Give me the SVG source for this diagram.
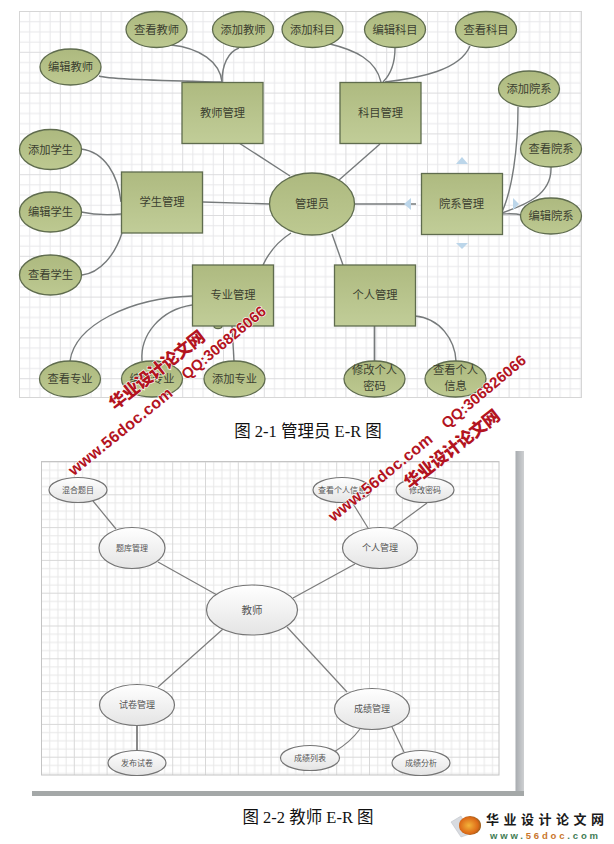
<svg xmlns="http://www.w3.org/2000/svg" width="614" height="844" viewBox="0 0 614 844">
<style>
text{font-family:"Noto Sans CJK SC","Liberation Serif",serif;text-anchor:middle}
.n1 rect,.n1 ellipse{stroke:#5f6c4e;stroke-width:1.3}
.n1 rect{fill:url(#gR)}
.n1 ellipse{fill:url(#gE)}
.n1 text{font-size:11.3px;fill:#3c3f30}
.n2 ellipse{fill:url(#gW);stroke:#747474;stroke-width:1.2}
.n2 text{font-size:8px;fill:#555}
.n2 text.m{font-size:9px}
.n2 text.b{font-size:10.5px}
.c1 path{fill:none;stroke:#767a7b;stroke-width:1.4}
.c2 path{fill:none;stroke:#7c7c7c;stroke-width:1.2}
.cap{font-size:16.500px;fill:#111;font-family:"Liberation Serif","Noto Sans CJK SC",serif}
.wm text{font-family:"Liberation Sans","Noto Sans CJK SC",sans-serif;font-weight:700;fill:#b3141f;stroke:#fff;stroke-width:1.2px;paint-order:stroke}
.wm text.h{font-family:"Noto Sans CJK SC",sans-serif;font-weight:900;font-size:17px}
.tri{fill:#bcd6ea}
</style>
<defs>
<linearGradient id="gR" x1="0" y1="0" x2="0" y2="1"><stop offset="0" stop-color="#aeba80"/><stop offset="1" stop-color="#c1cd98"/></linearGradient>
<linearGradient id="gE" x1="0" y1="0" x2="0" y2="1"><stop offset="0" stop-color="#adb97f"/><stop offset="1" stop-color="#bdc991"/></linearGradient>
<linearGradient id="gW" x1="0" y1="0" x2="0" y2="1"><stop offset="0" stop-color="#ffffff"/><stop offset="1" stop-color="#e4e4e4"/></linearGradient>
<linearGradient id="gS" x1="0" y1="0" x2="1" y2="0"><stop offset="0" stop-color="#a8acb0"/><stop offset="1" stop-color="#ced0d2"/></linearGradient>
<radialGradient id="gB" cx=".45" cy=".5" r=".6"><stop offset="0" stop-color="#f3b43a"/><stop offset=".7" stop-color="#dd6a18"/><stop offset="1" stop-color="#7d5a1e"/></radialGradient>
<pattern id="g1" x="19" y="11" width="40.8" height="40.8" patternUnits="userSpaceOnUse">
<path d="M10.7 0V40.8M20.9 0V40.8M31.1 0V40.8M0 10.7H40.8M0 20.9H40.8M0 31.1H40.8" stroke="#e8e8ea" stroke-width="1" fill="none"/>
<path d="M.5 0V40.8M0 .5H40.8" stroke="#dcdcde" stroke-width="1" fill="none"/>
</pattern>
<pattern id="g2" x="41" y="461.5" width="32.8" height="32.8" patternUnits="userSpaceOnUse">
<path d="M8.7 0V32.8M16.9 0V32.8M25.1 0V32.8M0 8.7H32.8M0 16.9H32.8M0 25.1H32.8" stroke="#e8e8e8" stroke-width="1" fill="none"/>
<path d="M.5 0V32.8M0 .5H32.8" stroke="#d8d8d8" stroke-width="1" fill="none"/>
</pattern>
</defs>
<rect width="614" height="844" fill="#fff"/>

<g id="grid1"><rect x="19.500" y="11.500" width="562" height="386" fill="url(#g1)" stroke="#d6d6d6"/></g>
<g id="page2">
<rect x="515.500" y="451" width="8.500" height="345" fill="url(#gS)"/>
<rect x="32" y="791" width="492" height="5" fill="#a4a8a8"/>
<rect x="41.500" y="461.500" width="457.500" height="313.500" fill="url(#g2)" stroke="#c4c4c4"/>
</g>

<g id="connectors-1" class="c1">
<path d="M171 45C200 48 220 62 222 82"/>
<path d="M239 48C228 52 222 65 222 82"/>
<path d="M99 76C110 80 180 81 222 82"/>
<path d="M239 143L290 176"/>
<path d="M380 144L339 180"/>
<path d="M203 202L270 204"/>
<path d="M355 204H416"/>
<path d="M332 234L343 265"/>
<path d="M291 233C280 240 270 250 263 265"/>
<path d="M330 44C355 50 376 60 381 82"/>
<path d="M395 48C395 65 390 75 383 82"/>
<path d="M470 46C460 70 420 78 385 82"/>
<path d="M81 149C105 152 118 175 121 202"/>
<path d="M81 212C95 215 110 215 121 214"/>
<path d="M82 275C100 273 115 255 122 233"/>
<path d="M70 361C75 325 130 298 192 296"/>
<path d="M142 361C140 335 160 310 192 305"/>
<path d="M234 361L232 326"/>
<path d="M374.500 326V361" style="stroke-width:1.700"/>
<path d="M415 316C440 318 455 340 456 361"/>
<path d="M518 107C518 150 512 190 502 212"/>
<path d="M551 167C552 195 525 205 502 213"/>
<path d="M521 215C515 213 510 214 497 214"/>
</g>
<g id="handles">
<path class="tri" d="M462 157L468 164H456Z"/>
<path class="tri" d="M462 249L468 243H456Z"/>
<path class="tri" d="M404 204L411 198V210Z"/>
<path class="tri" d="M519 204L513 198V210Z"/>
</g>

<g id="connectors-2" class="c2">
<path d="M93 501L116 529"/>
<path d="M158 562L217 595"/>
<path d="M352 502L368 528"/>
<path d="M427 503L393 528"/>
<path d="M355 564L293 598"/>
<path d="M223 629L158 687"/>
<path d="M287 627L347 692"/>
<path d="M137 726V750" style="stroke-width:1.800"/>
<path d="M360 729C352 740 344 746 334 752"/>
<path d="M392 727L404 752"/>
</g>

<g id="a-view-teacher" class="n1"><ellipse cx="156.500" cy="29.500" rx="30.500" ry="18"/><text x="156.500" y="33.500">查看教师</text></g>
<g id="a-add-teacher" class="n1"><ellipse cx="243" cy="29.500" rx="30.500" ry="18"/><text x="243" y="33.500">添加教师</text></g>
<g id="a-add-subject" class="n1"><ellipse cx="312.500" cy="29.500" rx="30.500" ry="18"/><text x="312.500" y="33.500">添加科目</text></g>
<g id="a-edit-subject" class="n1"><ellipse cx="395" cy="29.500" rx="30.500" ry="18"/><text x="395" y="33.500">编辑科目</text></g>
<g id="a-view-subject" class="n1"><ellipse cx="486" cy="29.500" rx="30.500" ry="18"/><text x="486" y="33.500">查看科目</text></g>
<g id="a-edit-teacher" class="n1"><ellipse cx="70.500" cy="67" rx="30.500" ry="18"/><text x="70.500" y="71">编辑教师</text></g>
<g id="a-add-student" class="n1"><ellipse cx="50.500" cy="149.500" rx="31" ry="20"/><text x="50.500" y="153.500">添加学生</text></g>
<g id="a-edit-student" class="n1"><ellipse cx="50.500" cy="212" rx="31" ry="20"/><text x="50.500" y="216">编辑学生</text></g>
<g id="a-view-student" class="n1"><ellipse cx="50.500" cy="275" rx="31" ry="20"/><text x="50.500" y="279">查看学生</text></g>
<g id="a-teacher-mgmt" class="n1"><rect x="182" y="82.500" width="81" height="61"/><text x="222.500" y="117">教师管理</text></g>
<g id="a-subject-mgmt" class="n1"><rect x="340" y="82.500" width="81" height="61"/><text x="380.500" y="117">科目管理</text></g>
<g id="a-student-mgmt" class="n1"><rect x="121.500" y="172" width="81" height="61"/><text x="162" y="206">学生管理</text></g>
<g id="a-dept-mgmt" class="n1"><rect x="421.500" y="173.500" width="81" height="61"/><text x="461.500" y="208">院系管理</text></g>
<g id="a-admin" class="n1"><ellipse cx="312" cy="204" rx="42.500" ry="31"/><text x="312" y="208">管理员</text></g>
<g id="a-bump" class="n1"><ellipse cx="218" cy="326" rx="4" ry="2.500"/></g>
<g id="a-major-mgmt" class="n1"><rect x="192.500" y="265" width="81" height="61"/><text x="233" y="299">专业管理</text></g>
<g id="a-personal-mgmt" class="n1"><rect x="334.500" y="265" width="81" height="61"/><text x="375" y="299">个人管理</text></g>
<g id="a-view-major" class="n1"><ellipse cx="70" cy="379" rx="30.500" ry="18"/><text x="70" y="383">查看专业</text></g>
<g id="a-edit-major" class="n1"><ellipse cx="152" cy="379" rx="30.500" ry="18"/><text x="152" y="383">编辑专业</text></g>
<g id="a-add-major" class="n1"><ellipse cx="234.500" cy="379" rx="30.500" ry="18"/><text x="234.500" y="383">添加专业</text></g>
<g id="a-change-pwd" class="n1"><ellipse cx="374.500" cy="379" rx="30.500" ry="18"/><text x="374.500" y="374">修改个人</text><text x="374.500" y="390">密码</text></g>
<g id="a-view-info" class="n1"><ellipse cx="455.500" cy="379" rx="30.500" ry="18"/><text x="455.500" y="374">查看个人</text><text x="455.500" y="390">信息</text></g>
<g id="a-add-dept" class="n1"><ellipse cx="529" cy="89" rx="30.500" ry="18"/><text x="529" y="93">添加院系</text></g>
<g id="a-view-dept" class="n1"><ellipse cx="551" cy="149" rx="30.500" ry="18"/><text x="551" y="153">查看院系</text></g>
<g id="a-edit-dept" class="n1"><ellipse cx="551" cy="216" rx="30.500" ry="18"/><text x="551" y="220">编辑院系</text></g>

<g id="t-mixed" class="n2"><ellipse cx="78" cy="490" rx="29" ry="12.500"/><text x="78" y="493">混合题目</text></g>
<g id="t-bank" class="n2"><ellipse cx="132" cy="548" rx="33" ry="20.500"/><text x="132" y="551">题库管理</text></g>
<g id="t-teacher" class="n2"><ellipse cx="252" cy="610" rx="45.500" ry="25"/><text class="b" x="252" y="614">教师</text></g>
<g id="t-info" class="n2"><ellipse cx="342" cy="490" rx="29" ry="12.500"/><text x="342" y="493">查看个人信息</text></g>
<g id="t-pwd" class="n2"><ellipse cx="425" cy="490" rx="29" ry="12.500"/><text x="425" y="493">修改密码</text></g>
<g id="t-personal" class="n2"><ellipse cx="380" cy="548" rx="37.500" ry="20.500"/><text class="m" x="380" y="551">个人管理</text></g>
<g id="t-paper" class="n2"><ellipse cx="137" cy="705" rx="37.500" ry="20.500"/><text class="m" x="137" y="708">试卷管理</text></g>
<g id="t-publish" class="n2"><ellipse cx="137" cy="763" rx="29" ry="12.500"/><text x="137" y="766">发布试卷</text></g>
<g id="t-score" class="n2"><ellipse cx="372" cy="709" rx="37.500" ry="20.500"/><text class="m" x="372" y="712">成绩管理</text></g>
<g id="t-list" class="n2"><ellipse cx="310" cy="758" rx="29.500" ry="12.500"/><text x="310" y="761">成绩列表</text></g>
<g id="t-analysis" class="n2"><ellipse cx="421" cy="763" rx="29" ry="12.500"/><text x="421" y="766">成绩分析</text></g>

<text class="cap" x="308" y="437">图 2-1 管理员 E-R 图</text>
<text class="cap" x="308" y="823">图 2-2 教师 E-R 图</text>

<g id="watermarks" class="wm">
<text class="h" transform="translate(157 370) rotate(-38)" y="6" textLength="116">华业设计论文网</text>
<text transform="translate(120 431) rotate(-39)" y="6" font-size="16" textLength="129">www.56doc.com</text>
<text transform="translate(223 342) rotate(-40)" y="6" font-size="15" textLength="105">QQ:306826066</text>
<text class="h" transform="translate(452 449) rotate(-38)" y="6" textLength="116">华业设计论文网</text>
<text transform="translate(380 477) rotate(-39)" y="6" font-size="16" textLength="129">www.56doc.com</text>
<text transform="translate(483 391) rotate(-40)" y="6" font-size="15" textLength="105">QQ:306826066</text>
</g>

<g id="logo">
<path d="M451 822L461 816L470 834L461 837Z" fill="#d8dbe0" stroke="#b8bcc2" stroke-width=".5"/>
<ellipse cx="470" cy="825.500" rx="11" ry="9.500" fill="url(#gB)"/>
<text x="545" y="824" font-size="13" font-weight="700" fill="#1a1a1a" textLength="118" style="font-family:'Noto Sans CJK SC',sans-serif">华业设计论文网</text>
<text x="544" y="839" font-size="9.500" font-weight="700" textLength="108" style="font-family:'Liberation Sans',sans-serif"><tspan fill="#3f7d55">www.</tspan><tspan fill="#c9762c">56doc</tspan><tspan fill="#3f7d55">.com</tspan></text>
</g>
</svg>
